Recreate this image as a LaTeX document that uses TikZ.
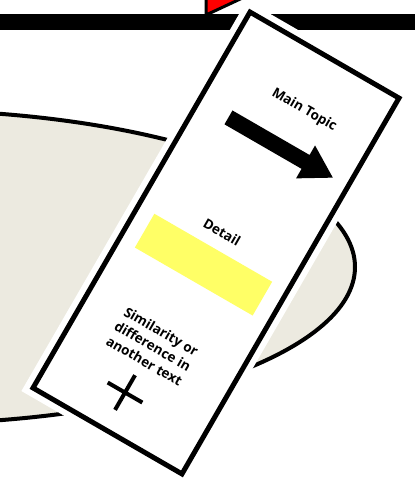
\documentclass[tikz,border=0pt]{standalone}
\usepackage{fontspec}
\setmainfont{Open Sans}
\definecolor{paper}{HTML}{ECEAE0}
\definecolor{marker}{HTML}{FFFF66}
\begin{document}
\begin{tikzpicture}[x=1pt,y=1pt,
  cardtext/.style={font=\bfseries\fontsize{13.5}{17}\selectfont,align=center,inner sep=0pt}]
\useasboundingbox (0,0) rectangle (415,479);
\clip (0,0) rectangle (415,479);
\fill[white] (0,0) rectangle (415,479);
\draw[line width=3,fill=red] (206,464)--(206,492)--(266,492)--cycle;
\fill[black] (0,449) rectangle (415,465);
\draw[line width=4,fill=paper] (-100,212) ellipse [x radius=455,y radius=157];
\begin{scope}[shift={(216,236)},rotate=-30,transform shape]
\draw[white,line width=17] (-86,-217) rectangle (86,217);
\draw[line width=5,fill=white] (-86,-217) rectangle (86,217);
\node[cardtext] (maintopic) at (10,159) {Main Topic};
\fill (-52,107)--(37,107)--(37,96)--(68.5,115)--(37,134)--(37,123)--(-52,123)--cycle;
\node[cardtext] (detail) at (0,12) {Detail};
\fill[marker] (-68,-44.5) rectangle (68,-5.5);
\node[cardtext] (similar) at (-3,-121) {Similarity or\\difference in\\another text};
\draw[line width=4] (-24,-175)--(16,-175) (-4,-155)--(-4,-195);
\end{scope}
\end{tikzpicture}
\end{document}
